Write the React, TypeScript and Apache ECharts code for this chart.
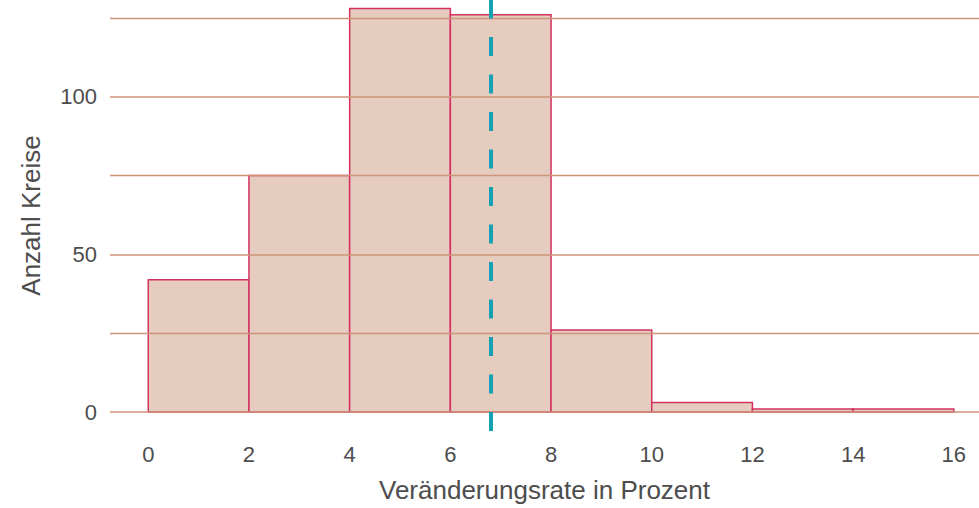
import React, { useEffect, useRef } from "react";
import * as echarts from "echarts";

const binStarts = [0, 2, 4, 6, 8, 10, 12, 14];
const binEnds = [2, 4, 6, 8, 10, 12, 14, 16];
const counts = [42, 75, 128, 126, 26, 3, 1, 1];
const meanRate = 6.8;
const majorGrid = [0, 50, 100];
const minorGrid = [25, 75, 125];

const xTitle = "Veränderungsrate in Prozent";
const yTitle = "Anzahl Kreise";

const FONT = "Liberation Sans, Arial, sans-serif";
const TEXT = "#4d4d4d";
const GRID = "#cd9479";

export default function App() {
  const ref = useRef<HTMLDivElement>(null);
  useEffect(() => {
    if (!ref.current) return;
    const chart = echarts.init(ref.current, undefined, { renderer: "svg" });
    const data = binStarts.map((s, i) => [s, binEnds[i], counts[i]]);
    chart.setOption({
      animation: false,
      backgroundColor: "#ffffff",
      grid: { left: 110, right: 0, top: 0, bottom: 76 },
      xAxis: {
        type: "value",
        min: -0.76,
        max: 16.5,
        splitNumber: 8,
        minInterval: 2,
        maxInterval: 2,
        axisLine: { show: false },
        axisTick: { show: false },
        splitLine: { show: false },
        axisLabel: {
          color: TEXT,
          fontSize: 22,
          fontFamily: FONT,
          margin: 12,
          showMinLabel: false,
          showMaxLabel: false,
        },
        name: xTitle,
        nameLocation: "middle",
        nameGap: 46,
        nameTextStyle: { color: TEXT, fontSize: 26, fontFamily: FONT },
      },
      yAxis: {
        type: "value",
        min: -6,
        max: 130.7,
        splitNumber: 3,
        minInterval: 50,
        maxInterval: 50,
        axisLine: { show: false },
        axisTick: { show: false },
        splitLine: { show: false },
        axisLabel: {
          color: TEXT,
          fontSize: 22,
          fontFamily: FONT,
          margin: 13,
          showMinLabel: false,
          showMaxLabel: false,
        },
        name: yTitle,
        nameLocation: "middle",
        nameGap: 66,
        nameRotate: 90,
        nameTextStyle: { color: TEXT, fontSize: 26, fontFamily: FONT },
      },
      series: [
        {
          type: "line",
          data: [[0, 0]],
          showSymbol: false,
          symbolSize: 0,
          lineStyle: { opacity: 0 },
          z: 1,
          silent: true,
          markLine: {
            silent: true,
            symbol: ["none", "none"],
            label: { show: false },
            animation: false,
            data: [
              ...majorGrid.map((v) => ({ yAxis: v, lineStyle: { color: GRID, width: 1.6, type: "solid" } })),
              ...minorGrid.map((v) => ({ yAxis: v, lineStyle: { color: GRID, width: 1.3, type: "solid" } })),
            ],
          },
        },
        {
          type: "custom",
          z: 2,
          data,
          encode: { x: [0, 1], y: 2 },
          renderItem: (params: any, api: any) => {
            const s = api.value(0);
            const e = api.value(1);
            const c = api.value(2);
            const p0 = api.coord([s, c]);
            const p1 = api.coord([e, 0]);
            return {
              type: "rect",
              shape: { x: p0[0], y: p0[1], width: p1[0] - p0[0], height: p1[1] - p0[1] },
              style: { fill: "#e5ccbf", stroke: "#d4315f", lineWidth: 1.5 },
            };
          },
        },
        {
          type: "line",
          data: [[0, 0]],
          showSymbol: false,
          symbolSize: 0,
          lineStyle: { opacity: 0 },
          z: 3,
          silent: true,
          markLine: {
            silent: true,
            symbol: ["none", "none"],
            label: { show: false },
            animation: false,
            data: [{ xAxis: meanRate }],
            lineStyle: { color: "#17a2b4", width: 4, type: [19, 18.5] },
          },
        },
      ],
    });
    return () => chart.dispose();
  }, []);
  return (
    <div
      ref={ref}
      style={{ position: "absolute", left: 0, top: 0, width: 979, height: 508 }}
    />
  );
}
